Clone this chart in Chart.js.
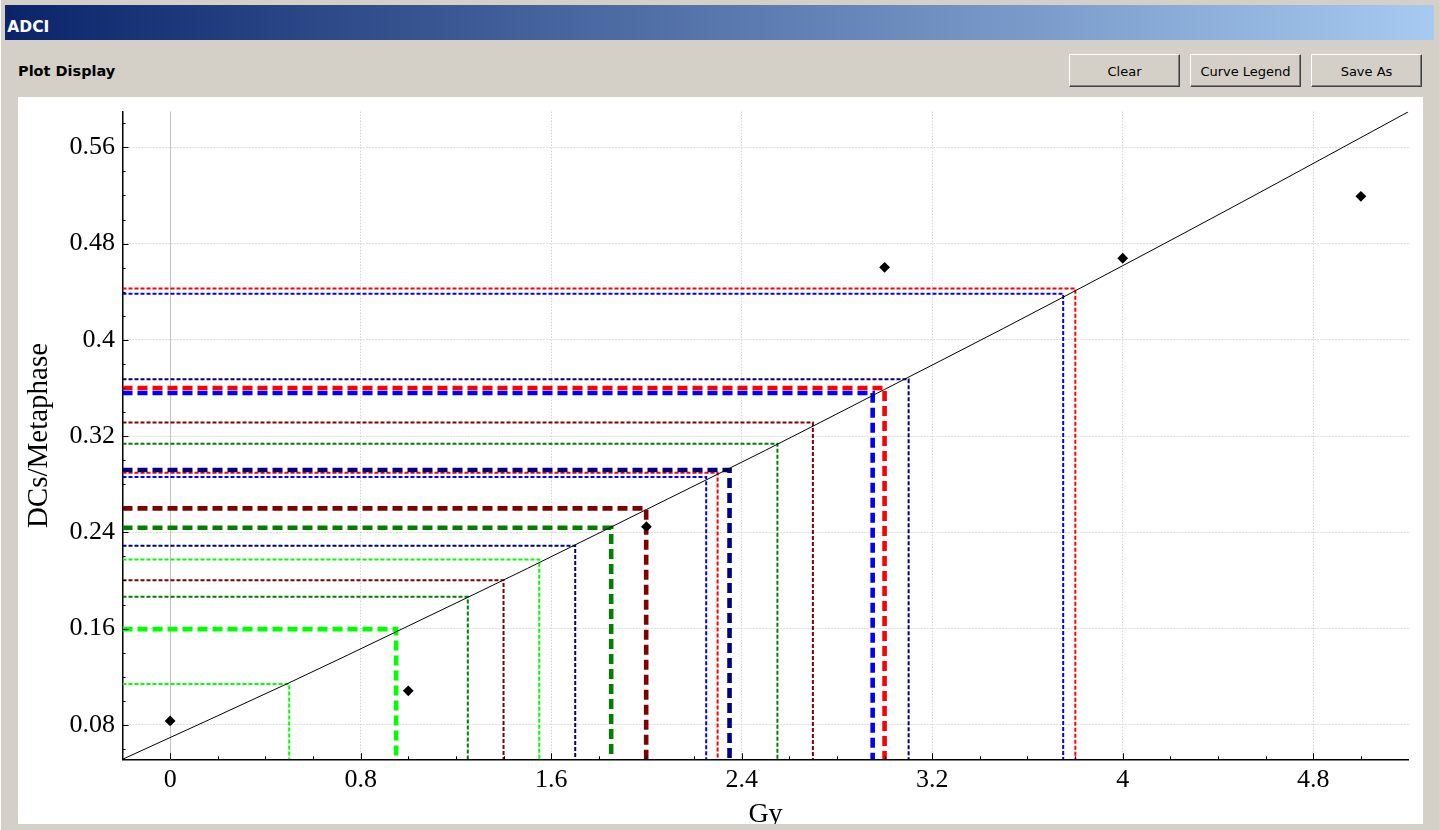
<!DOCTYPE html>
<html>
<head>
<meta charset="utf-8">
<script src="https://cdn.jsdelivr.net/npm/chart.js@4.4.1/dist/chart.umd.min.js"></script>
<style>
html,body{margin:0;padding:0;}
body{width:1439px;height:830px;background:#d4d0c8;position:relative;overflow:hidden;font-family:"DejaVu Sans",sans-serif;}
#edge{position:absolute;left:0;top:0;width:1px;height:830px;background:#ffffff;}
#titlebar{position:absolute;left:5px;top:5px;width:1429px;height:35px;background:linear-gradient(to right,#0a246a,#a6caf0);}
#title{position:absolute;left:7.3px;top:19.6px;font:bold 15.5px/1 "DejaVu Sans";color:#ffffff;white-space:nowrap;}
#plotlabel{position:absolute;left:18px;top:64px;font:bold 14.5px/1 "DejaVu Sans";color:#000;white-space:nowrap;}
.btn{position:absolute;top:54px;width:109px;background:#d4d0c8;border:1px solid;border-color:#ffffff #404040 #404040 #ffffff;box-shadow:inset -1px -1px 0 #808080;font:13px/31px "DejaVu Sans";color:#000;text-align:center;padding-top:1px;box-sizing:content-box;height:30px;}
#plot{position:absolute;left:18px;top:97px;width:1405px;height:727px;background:#ffffff;overflow:hidden;}
</style>
</head>
<body>
<div id="edge"></div>
<div id="titlebar"></div>
<div id="title">ADCI</div>
<div id="plotlabel">Plot Display</div>
<div class="btn" style="left:1069px;">Clear</div>
<div class="btn" style="left:1190px;">Curve Legend</div>
<div class="btn" style="left:1311px;">Save As</div>
<div id="plot"><canvas id="c"></canvas></div>
<script>
// ---- axis ranges and tick labels ----
const xMin = -0.2, xMax = 5.2;
const yMin = 0.0514, yMax = 0.5896;
const xMajorTicks = [0, 0.8, 1.6, 2.4, 3.2, 4, 4.8];
const xTickLabels = ['0', '0.8', '1.6', '2.4', '3.2', '4', '4.8'];
const yMajorTicks = [0.08, 0.16, 0.24, 0.32, 0.4, 0.48, 0.56];
const yTickLabels = ['0.08', '0.16', '0.24', '0.32', '0.4', '0.48', '0.56'];
const xMinorStep = 0.2;
const yMinorStep = 0.02;

// ---- measured data points (dose in Gy, DCs per metaphase) ----
const pointsX = [0, 1, 2, 3, 4, 5];
const pointsY = [0.0833, 0.1083, 0.2447, 0.4603, 0.4678, 0.5193];

// ---- fitted calibration curve, read along its length ----
const curveX = [-0.2, 0.5, 1.0, 1.5, 2.0, 2.5, 3.0, 3.5, 4.0, 4.5, 5.0, 5.2];
const curveY = [0.0514, 0.1150, 0.1622, 0.2100, 0.2590, 0.3082, 0.3588, 0.4096, 0.4616, 0.5144, 0.5681, 0.5896];

// ---- dose-estimate guides (corner of each L on the curve) ----
const guideX = [0.500, 0.949, 1.250, 1.400, 1.550, 1.701, 1.852, 1.999, 2.251, 2.299, 2.349, 2.550, 2.699, 2.950, 3.000, 3.101, 3.750, 3.801];
const guideY = [0.1139, 0.1596, 0.1864, 0.2003, 0.2175, 0.2289, 0.2438, 0.2599, 0.2860, 0.2896, 0.2918, 0.3137, 0.3314, 0.3558, 0.3600, 0.3672, 0.4384, 0.4426];
// styles for the guides (kept apart from the values)
const guideColors = ['#00ff00', '#00ff00', '#008000', '#800000', '#00ff00', '#000080', '#008000', '#800000', '#0000ff', '#ff0000', '#000080', '#008000', '#800000', '#0000ff', '#ff0000', '#000080', '#0000ff', '#ff0000'];
const guideThick = [false, true, false, false, false, false, true, true, false, false, true, false, false, true, true, false, false, false];

// ---- helpers ----
function inList(list, v) { return list.findIndex(m => Math.abs(m - v) < 1e-9); }
function stepTicks(lo, hi, step) {
  const out = [];
  const i0 = Math.ceil(lo / step + 1e-6), i1 = Math.floor(hi / step - 1e-6);
  for (let i = i0; i <= i1; i++) out.push(Math.round(i * step * 1e6) / 1e6);
  return out;
}
const xAllTicks = stepTicks(xMin, xMax, xMinorStep);
const yAllTicks = stepTicks(yMin, yMax, yMinorStep);

const datasets = [];
datasets.push({
  label: 'Data',
  data: pointsX.map((x, i) => ({x: x, y: pointsY[i]})),
  showLine: false,
  pointStyle: 'rectRot',
  pointRadius: 5.4,
  backgroundColor: '#000000',
  borderColor: '#000000',
  borderWidth: 0,
  order: 0
});
datasets.push({
  label: 'Curve',
  data: curveX.map((x, i) => ({x: x, y: curveY[i]})),
  showLine: true,
  borderColor: '#000000',
  borderWidth: 1,
  pointRadius: 0,
  tension: 0.4,
  cubicInterpolationMode: 'monotone',
  order: 1
});
guideX.forEach((gx, i) => {
  const thick = guideThick[i];
  datasets.push({
    label: 'Guide ' + (i + 1),
    data: [{x: xMin, y: guideY[i]}, {x: gx, y: guideY[i]}, {x: gx, y: yMin}],
    showLine: true,
    borderColor: guideColors[i],
    borderWidth: thick ? 4.6 : 2,
    borderDash: thick ? [10, 5] : [4, 2],
    borderCapStyle: 'butt',
    borderJoinStyle: 'miter',
    pointRadius: 0,
    tension: 0,
    order: thick ? 2 : 3
  });
});

const serif = '"Liberation Serif", "Times New Roman", serif';

const axisDeco = {
  id: 'axisDeco',
  beforeDatasetsDraw(chart) {
    const {ctx, chartArea: a, scales: {x}} = chart;
    ctx.save();
    ctx.strokeStyle = '#c0c0c0';
    ctx.lineWidth = 1;
    const px = Math.round(x.getPixelForValue(0)) + 0.5;
    ctx.beginPath();
    ctx.moveTo(px, a.top);
    ctx.lineTo(px, a.bottom);
    ctx.stroke();
    ctx.restore();
  },
  afterDatasetsDraw(chart) {
    const {ctx, chartArea: a, scales: {x, y}} = chart;
    ctx.save();
    ctx.strokeStyle = '#000000';
    ctx.lineWidth = 1;
    ctx.beginPath();
    xAllTicks.forEach(v => {
      const len = inList(xMajorTicks, v) >= 0 ? 6 : 3;
      const px = Math.round(x.getPixelForValue(v)) + 0.5;
      ctx.moveTo(px, a.bottom);
      ctx.lineTo(px, a.bottom - len);
    });
    yAllTicks.forEach(v => {
      const len = inList(yMajorTicks, v) >= 0 ? 6 : 3;
      const py = Math.round(y.getPixelForValue(v)) + 0.5;
      ctx.moveTo(a.left, py);
      ctx.lineTo(a.left + len, py);
    });
    ctx.stroke();
    ctx.restore();
  }
};

new Chart(document.getElementById('c'), {
  type: 'scatter',
  data: {datasets: datasets},
  plugins: [axisDeco],
  options: {
    responsive: true,
    maintainAspectRatio: false,
    animation: false,
    events: [],
    layout: {padding: {left: 0, right: 14.5, top: 14.7, bottom: 0}},
    plugins: {legend: {display: false}, tooltip: {enabled: false}},
    scales: {
      x: {
        type: 'linear',
        min: xMin,
        max: xMax,
        afterBuildTicks: s => { s.ticks = xAllTicks.map(v => ({value: v})); },
        afterFit: s => { s.height = 64.7; },
        grid: {
          drawTicks: false,
          lineWidth: 1,
          color: c => (c.tick && inList(xMajorTicks, c.tick.value) >= 0) ? '#c0c0c0' : 'rgba(0,0,0,0)'
        },
        border: {display: true, color: '#000000', width: 1.5, dash: [1, 2]},
        ticks: {
          autoSkip: false,
          maxRotation: 0,
          padding: 7.4,
          color: '#000000',
          font: {family: serif, size: 26, lineHeight: 1},
          callback: v => { const k = inList(xMajorTicks, v); return k >= 0 ? xTickLabels[k] : ''; }
        },
        title: {
          display: true,
          text: 'Gy',
          color: '#000000',
          font: {family: serif, size: 28, lineHeight: 0.5},
          padding: {top: 0, bottom: 2.5}
        }
      },
      y: {
        type: 'linear',
        min: yMin,
        max: yMax,
        afterBuildTicks: s => { s.ticks = yAllTicks.map(v => ({value: v})); },
        afterFit: s => { s.width = 104.5; },
        grid: {
          drawTicks: false,
          lineWidth: 1,
          color: c => (c.tick && inList(yMajorTicks, c.tick.value) >= 0) ? '#c0c0c0' : 'rgba(0,0,0,0)'
        },
        border: {display: true, color: '#000000', width: 1.5, dash: [1, 2]},
        ticks: {
          autoSkip: false,
          padding: 7.5,
          color: '#000000',
          font: {family: serif, size: 26, lineHeight: 0.4},
          callback: v => { const k = inList(yMajorTicks, v); return k >= 0 ? yTickLabels[k] : ''; }
        },
        title: {
          display: true,
          text: 'DCs/Metaphase',
          color: '#000000',
          font: {family: serif, size: 29, lineHeight: 0.5},
          padding: {top: 14, bottom: 0}
        }
      }
    }
  }
});
</script>
</body>
</html>
